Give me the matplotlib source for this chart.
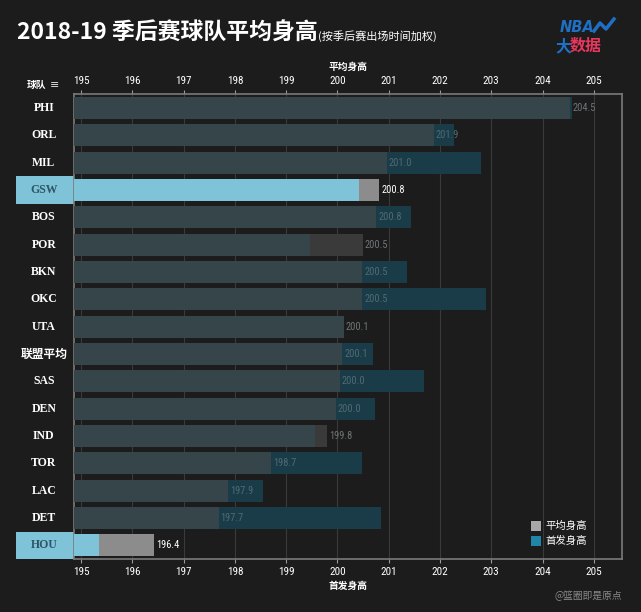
import matplotlib
matplotlib.use("Agg")
import matplotlib.pyplot as plt
from matplotlib.patches import Rectangle
from matplotlib import font_manager

plt.rcParams['font.family'] = ['Noto Sans CJK SC', 'DejaVu Sans']

teams = ['PHI', 'ORL', 'MIL', 'GSW', 'BOS', 'POR', 'BKN', 'OKC', 'UTA', '联盟平均',
         'SAS', 'DEN', 'IND', 'TOR', 'LAC', 'DET', 'HOU']
avg_height = [204.54, 201.88, 200.96, 200.81, 200.76, 200.49, 200.48, 200.48, 200.12, 200.09,
              200.04, 199.97, 199.79, 198.71, 197.87, 197.68, 196.42]
starter_height = [204.57, 202.28, 202.79, 200.41, 201.43, 199.47, 201.36, 202.90, 200.12, 200.69,
                  201.69, 200.74, 199.57, 200.47, 198.54, 200.84, 195.35]
highlight = ['GSW', 'HOU']
x_ticks = [195, 196, 197, 198, 199, 200, 201, 202, 203, 204, 205]

# pick a narrow sans font if one is installed
names = sorted({f.name for f in font_manager.fontManager.ttflist})
narrow = None
for cand in ['Liberation Sans Narrow', 'Roboto Condensed', 'Open Sans Condensed',
             'DejaVu Sans Condensed']:
    if cand in names:
        narrow = cand
        break
stretch = 'normal'
if narrow is None:
    narrow = 'DejaVu Sans'
    for f in font_manager.fontManager.ttflist:
        if f.name == 'DejaVu Sans' and 'Condensed' in f.fname:
            stretch = 'condensed'
            break
label_font = [narrow, 'DejaVu Sans']

BG = '#1c1c1c'
XMIN, XMAX = 194.86, 205.55

fig = plt.figure(figsize=(6.41, 6.12), dpi=100, facecolor=BG)
ax = fig.add_axes([0.1154, 0.0866, 0.9704 - 0.1154, 0.8459 - 0.0866], facecolor=BG)

ax.set_xlim(XMIN, XMAX)
ax.set_ylim(len(teams) - 0.5, -0.5)

for x in x_ticks:
    ax.axvline(x, color='#3a3a3a', lw=0.8, zorder=0)

for i, (t, a, s) in enumerate(zip(teams, avg_height, starter_height)):
    hl = t in highlight
    if hl:
        c_over, c_avg, c_start = '#7fc3d8', '#8c8c8c', '#1f86a8'
    else:
        c_over, c_avg, c_start = '#364549', '#3a3a3a', '#1a3c48'
    longer = max(a, s)
    shorter = min(a, s)
    c_long = c_avg if a >= s else c_start
    ax.barh(i, longer - XMIN, left=XMIN, height=0.8, color=c_long, zorder=2)
    ax.barh(i, shorter - XMIN, left=XMIN, height=0.8, color=c_over, zorder=3)
    txt_col = 'white' if hl else ('#4f6a73' if s > a + 0.3 else '#6f7577')
    ax.text(a + 0.04, i, f'{a:.1f}', va='center', ha='left', fontsize=7.5,
            family=label_font, fontstretch=stretch, color=txt_col, zorder=4)
    if hl:
        ax.add_patch(Rectangle((-0.106, i - 0.5), 0.106, 1.0, transform=ax.get_yaxis_transform(),
                               facecolor='#7fc3d8', edgecolor='none', clip_on=False, zorder=1))
    ax.text(-0.055, i, t, transform=ax.get_yaxis_transform(), ha='center', va='center',
            fontsize=8.5, fontweight='bold',
            family=['Liberation Serif', 'Noto Sans CJK SC'] if t.isascii() else ['Noto Sans CJK SC'],
            color='#2d5566' if hl else 'white')

ax.set_yticks([])
ax.set_xticks(x_ticks)
ax.set_xticklabels([str(v) for v in x_ticks])
ax.tick_params(axis='x', which='both', top=True, labeltop=True, bottom=True, labelbottom=True,
               length=3, color='#999999', labelcolor='white', labelsize=8, pad=3)
for lab in ax.get_xticklabels():
    lab.set_family(label_font)
    lab.set_fontstretch(stretch)
for sp in ax.spines.values():
    sp.set_color('#7a7a7a')
    sp.set_linewidth(1.2)

# axis titles
fig.text(348 / 641, 1 - 67 / 612, '平均身高', ha='center', va='center', fontsize=7,
         fontweight='bold', color='white')
fig.text(348 / 641, 1 - 586 / 612, '首发身高', ha='center', va='center', fontsize=7,
         fontweight='bold', color='white')
fig.text(37 / 641, 1 - 85 / 612, '球队', ha='center', va='center', fontsize=7,
         fontweight='bold', color='white')
fig.text(55 / 641, 1 - 85 / 612, '≡', ha='center', va='center', fontsize=8,
         family=['DejaVu Sans'], color='#dddddd')

# title
fig.text(17 / 641, 1 - 33 / 612, '2018-19 季后赛球队平均身高', ha='left', va='center',
         fontsize=16.5, fontweight='bold', color='white')
fig.text(318 / 641, 1 - 36 / 612, '(按季后赛出场时间加权)', ha='left', va='center',
         fontsize=8, color='white')

# logo
fig.text(560 / 641, 1 - 27 / 612, 'NBA', ha='left', va='center', fontsize=10.5,
         fontweight='bold', style='italic', family=['DejaVu Sans'], color='#1f6fc4')
fig.text(555 / 641, 1 - 46 / 612, '大', ha='left', va='center', fontsize=11.5,
         fontweight='bold', color='#1f6fc4')
fig.text(570 / 641, 1 - 46 / 612, '数据', ha='left', va='center', fontsize=11.5,
         fontweight='bold', color='#e8365d')
fig.add_artist(plt.Line2D([594 / 641, 600 / 641, 606 / 641, 614 / 641],
                          [1 - 31 / 612, 1 - 23 / 612, 1 - 29 / 612, 1 - 19 / 612],
                          color='#1f6fc4', lw=2.5))

# legend
for k, (lab, col) in enumerate([('平均身高', '#a8a8a8'), ('首发身高', '#1f86a8')]):
    yy = 1 - (526 + k * 15) / 612
    fig.add_artist(Rectangle((531 / 641, yy - 5 / 612), 10 / 641, 10 / 612,
                             transform=fig.transFigure, facecolor=col, edgecolor='none'))
    fig.text(545 / 641, yy, lab, ha='left', va='center', fontsize=7.5, color='white')

# watermark
fig.text(622 / 641, 1 - 596 / 612, '@篮圈即是原点', ha='right', va='center', fontsize=7,
         color='#8a8a8a')

fig.savefig('out.png', dpi=100, facecolor=BG)
